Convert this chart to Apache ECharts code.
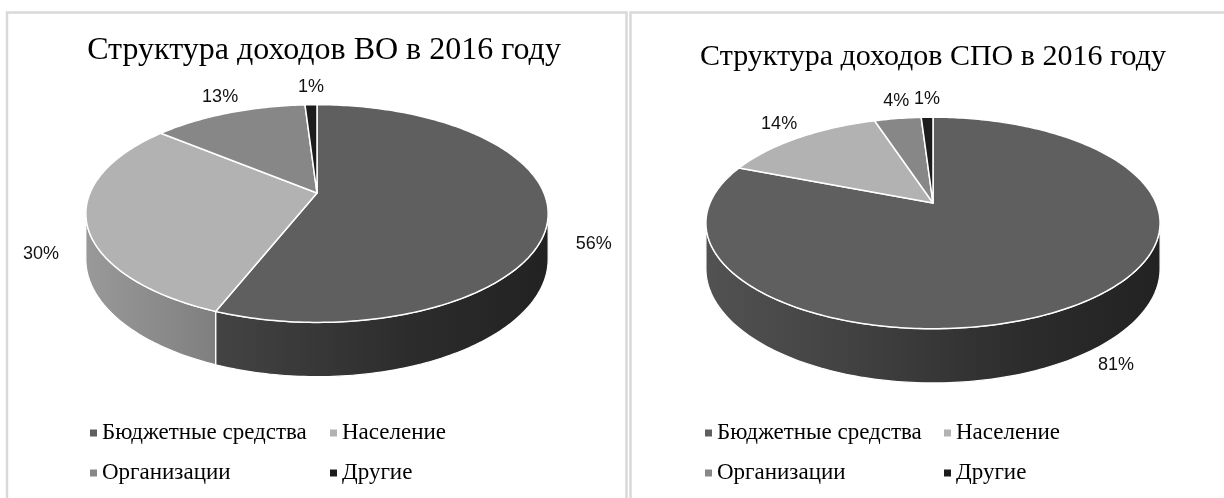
<!DOCTYPE html>
<html>
<head>
<meta charset="utf-8">
<script src="https://cdn.jsdelivr.net/npm/echarts@6/dist/echarts.min.js"></script>
<style>
html,body{margin:0;padding:0;background:#fff;}
#main{width:1224px;height:498px;}
</style>
</head>
<body>
<div id="main"></div>
<script>
// данные
var categories = ['Бюджетные средства', 'Население', 'Организации', 'Другие'];
var voValues = [56, 30, 13, 1];
var spoValues = [81, 14, 4, 1];
var titleVO = 'Структура доходов ВО в 2016 году';
var titleSPO = 'Структура доходов СПО в 2016 году';

var colors = ['#5f5f5f', '#b2b2b2', '#878787', '#1c1c1c'];
var D = 5.3; // перспектива

function shade(hex, f) {
  var n = parseInt(hex.slice(1), 16);
  var r = Math.round(((n >> 16) & 255) * f), g = Math.round(((n >> 8) & 255) * f), b = Math.round((n & 255) * f);
  return 'rgb(' + r + ',' + g + ',' + b + ')';
}

function wallStops(hex) {
  return [
    {offset: 0, color: shade(hex, 0.86)},
    {offset: 0.2, color: shade(hex, 0.76)},
    {offset: 0.4, color: shade(hex, 0.64)},
    {offset: 0.7, color: shade(hex, 0.46)},
    {offset: 1, color: shade(hex, 0.36)}
  ];
}

// псевдо-3D круговая диаграмма на custom series
function pieSeries(values, cx, cy, rx, ry, h) {
  var total = values.reduce(function (a, b) { return a + b; }, 0);
  var starts = [], acc = 0;
  for (var i = 0; i < values.length; i++) { starts.push(acc / total * 360); acc += values[i]; }
  function pt(a, z) {
    var r = a * Math.PI / 180, x = Math.sin(r), d = -Math.cos(r), s = D / (D - d);
    return [cx + rx * x * s, cy + (ry * d + h * z) * s];
  }
  function arc(a0, a1, z) {
    var pts = [], n = Math.max(2, Math.ceil(a1 - a0));
    for (var k = 0; k <= n; k++) pts.push(pt(a0 + (a1 - a0) * k / n, z));
    return pts;
  }
  var vis0 = Math.acos(-1 / D) * 180 / Math.PI, vis1 = 360 - vis0;
  return {
    type: 'custom',
    coordinateSystem: 'none',
    silent: true,
    data: values,
    renderItem: function (params, api) {
      var i = params.dataIndex, v = api.value(0);
      var a0 = starts[i], a1 = a0 + v / total * 360;
      var kids = [];
      kids.push({
        type: 'polygon', z2: 2,
        shape: {points: [[cx, cy]].concat(arc(a0, a1, 0))},
        style: {fill: colors[i], stroke: '#fff', lineWidth: 1.5, lineJoin: 'round'}
      });
      var w0 = Math.max(a0, vis0), w1 = Math.min(a1, vis1);
      if (w1 > w0) {
        kids.push({
          type: 'polygon', z2: 1,
          shape: {points: arc(w0, w1, 0).concat(arc(w0, w1, 1).reverse())},
          style: {
            fill: new echarts.graphic.LinearGradient(cx - rx * 1.02, 0, cx + rx * 1.02, 0, wallStops(colors[i]), true),
            stroke: '#fff', lineWidth: 1.2
          }
        });
      }
      // подпись
      var m = (a0 + a1) / 2, mr = m * Math.PI / 180;
      var ux = Math.sin(mr), ud = -Math.cos(mr), s = D / (D - ud);
      var p = pt(m, 0);
      var by = ud > 0 ? p[1] + h * s * (0.5 + 0.5 * ud) : p[1];
      var dx = ud > 0 ? 46 * (ux < 0 ? -1 : 1) * Math.sqrt(Math.abs(ux)) : 42 * ux * Math.abs(ux);
      kids.push({
        type: 'text', z2: 3,
        x: p[0] + dx, y: by + ud * 18,
        style: {
          text: v + '%', fill: '#111', font: '18px "Liberation Sans"',
          align: 'center', verticalAlign: 'middle'
        }
      });
      return {type: 'group', children: kids};
    }
  };
}

var series = [
  pieSeries(voValues, 317, 193, 227, 105, 44),
  pieSeries(spoValues, 933, 203, 223, 102, 44)
];
// пустые серии для легенды
categories.forEach(function (name, i) {
  series.push({
    type: 'custom', name: name, coordinateSystem: 'none', data: [],
    renderItem: function () { return null; }, itemStyle: {color: colors[i]}
  });
});

function legendCol(left, names) {
  return {
    orient: 'vertical', left: left, top: 421, padding: 0, itemGap: 16,
    icon: 'rect', itemWidth: 7, itemHeight: 7, selectedMode: false,
    data: names,
    textStyle: {fontFamily: 'Liberation Serif', fontSize: 23, lineHeight: 24, color: '#000'}
  };
}

var option = {
  animation: false,
  backgroundColor: '#fff',
  legend: [
    legendCol(90, [categories[0], categories[2]]),
    legendCol(330, [categories[1], categories[3]]),
    legendCol(705, [categories[0], categories[2]]),
    legendCol(944, [categories[1], categories[3]])
  ],
  graphic: [
    {type: 'polyline', shape: {points: [[7, 500], [7, 12.5], [626.5, 12.5], [626.5, 500]]}, style: {stroke: '#d9d9d9', lineWidth: 2.5, fill: null}},
    {type: 'polyline', shape: {points: [[630.5, 500], [630.5, 12.5], [1226, 12.5]]}, style: {stroke: '#d9d9d9', lineWidth: 2.5, fill: null}},
    {type: 'text', x: 324, y: 51, style: {text: titleVO, font: '32px "Liberation Serif"', fill: '#000', align: 'center', verticalAlign: 'middle'}},
    {type: 'text', x: 933, y: 57, style: {text: titleSPO, font: '30px "Liberation Serif"', fill: '#000', align: 'center', verticalAlign: 'middle'}}
  ],
  series: series
};

var myChart = echarts.init(document.getElementById('main'));
myChart.setOption(option);
window.addEventListener('resize', function () { myChart.resize(); });
</script>
</body>
</html>
